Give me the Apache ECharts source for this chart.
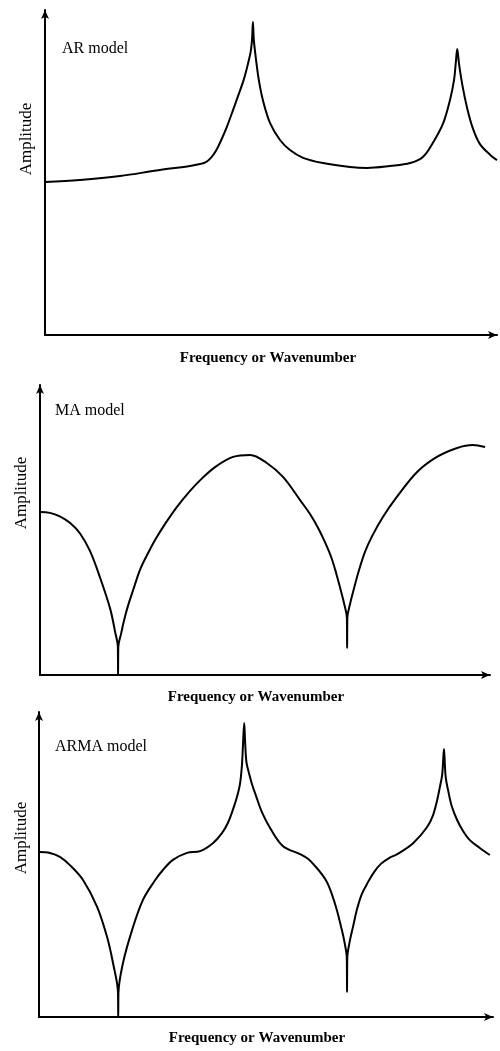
<!DOCTYPE html>
<html>
<head>
<meta charset="utf-8">
<script src="https://cdn.jsdelivr.net/npm/echarts/dist/echarts.min.js"></script>
<style>
html,body{margin:0;padding:0;background:#fff;}
#chart{width:500px;height:1051px;}
</style>
</head>
<body>
<div id="chart"></div>
<script>
// Panel titles and axis labels
const panelTitles = ['AR model', 'MA model', 'ARMA model'];
const xAxisLabel = 'Frequency or Wavenumber';
const yAxisLabel = 'Amplitude';

// [frequency, amplitude] (arbitrary units 0-100)
const arModel = [[0,47.1],[7.7,47.7],[16.6,48.9],[25.4,50.8],[32.1,52.0],[34.3,52.6],[35.6,53.2],[36.7,54.5],[37.8,56.6],[38.9,59.7],[40.3,64.3],[41.6,69.2],[42.7,73.5],[43.8,77.8],[44.5,81.2],[45.0,84.0],[45.5,87.1],[45.8,90.8],[46.0,96.3],[46.2,90.8],[46.7,84.6],[47.3,78.5],[48.2,72.3],[49.8,65.2],[52.0,60.0],[54.2,56.9],[57.1,54.5],[61.5,52.9],[67.5,51.7],[71.2,51.4],[76.3,52.0],[80.8,52.9],[83.6,54.8],[85.8,59.1],[88.1,65.2],[89.6,72.3],[90.5,78.5],[90.9,84.0],[91.2,88.0],[91.6,83.4],[92.3,77.2],[93.4,69.8],[94.7,63.4],[96.2,58.8],[98.5,55.4],[100,53.8]];

const maModel = [[0,56.2],[2.2,55.9],[4.4,54.7],[6.7,52.4],[8.9,48.8],[11.1,42.8],[13.3,33.8],[15.6,22.8],[16.7,14.8],[17.3,9.7],[17.35,0],[17.4,9.7],[18.0,14.1],[18.7,19.0],[19.6,24.1],[20.7,29.3],[22.2,36.2],[23.8,41.4],[25.6,46.6],[27.8,52.1],[30.4,57.9],[33.3,63.4],[35.6,67.2],[38.9,71.7],[42.9,75.2],[46.7,75.9],[50.4,73.1],[54.0,68.3],[57.8,60.3],[60.0,55.5],[61.8,50.7],[63.3,45.9],[64.7,40.7],[65.8,35.2],[66.7,30.0],[67.6,24.5],[68.2,19.7],[68.25,9.3],[68.3,19.7],[68.9,24.5],[69.8,30.0],[70.9,36.2],[72.2,42.4],[73.8,47.9],[76.2,54.5],[79.3,61.4],[83.8,70.0],[88.2,75.2],[92.7,78.3],[96.2,79.3],[98.9,78.6]];

const armaModel = [[0,54.1],[2.4,53.8],[4.6,52.5],[6.8,49.8],[9.7,44.9],[12.8,36.1],[15.0,26.2],[16.3,17.7],[17.4,7.9],[17.45,0],[17.5,7.9],[18.5,17.7],[20.5,28.5],[22.9,38.4],[25.6,44.9],[27.3,48.2],[29.5,51.5],[32.6,53.8],[35.5,54.4],[38.3,57.0],[40.3,60.3],[41.6,63.6],[42.7,67.9],[43.6,72.1],[44.3,76.7],[44.7,82.6],[44.9,88.2],[45.2,96.4],[45.4,90.2],[45.6,84.9],[45.8,82.6],[46.3,79.7],[46.9,76.4],[47.8,72.5],[49.1,67.2],[50.9,62.0],[53.7,56.1],[57.5,53.4],[59.3,51.8],[60.8,49.5],[62.1,47.2],[63.4,44.3],[64.5,40.3],[65.6,35.1],[66.5,29.8],[67.2,25.2],[67.8,19.3],[67.85,8.2],[67.9,19.3],[68.5,25.2],[69.2,29.8],[70.0,35.1],[71.1,40.3],[72.5,44.3],[73.8,47.5],[75.3,50.2],[77.1,52.1],[78.9,53.4],[82.4,57.0],[85.5,62.3],[86.8,66.2],[87.7,71.1],[88.3,75.4],[88.8,79.3],[89.0,83.6],[89.2,87.9],[89.4,82.6],[89.6,78.4],[90.1,74.4],[90.9,69.2],[92.1,64.6],[93.4,61.0],[94.9,58.0],[97.1,55.4],[99.3,53.1]];

const seriesData = [arModel, maModel, armaModel];

const grids = [
  {left: 45, top: 10, width: 452, height: 325},
  {left: 40, top: 385, width: 450, height: 290},
  {left: 39, top: 712, width: 454, height: 305}
];
const titlePos = [[62, 50], [55, 412], [55, 748]];
const xLabelPos = [[268, 358], [256, 697], [257, 1038]];
const yLabelPos = [[27, 139], [22, 493], [22, 838]];

const font = '"Liberation Serif", "DejaVu Serif", serif';
const axisLineStyle = {show: true, symbol: ['none', 'arrow'], symbolSize: [6, 9], lineStyle: {color: '#000', width: 2}};

const chart = echarts.init(document.getElementById('chart'), null, {renderer: 'canvas'});
const graphic = [];
for (let i = 0; i < 3; i++) {
  graphic.push({type: 'text', left: titlePos[i][0], top: titlePos[i][1] - 9,
    style: {text: panelTitles[i], font: '16px ' + font, fill: '#000'}});
  graphic.push({type: 'text', x: xLabelPos[i][0], y: xLabelPos[i][1],
    style: {text: xAxisLabel, font: 'bold 15px ' + font, fill: '#000', align: 'center', verticalAlign: 'middle'}});
  graphic.push({type: 'text', x: yLabelPos[i][0], y: yLabelPos[i][1], rotation: Math.PI / 2,
    style: {text: yAxisLabel, font: '17px ' + font, fill: '#000', align: 'center', verticalAlign: 'middle'}});
}

chart.setOption({
  animation: false,
  backgroundColor: '#fff',
  grid: grids,
  xAxis: grids.map((g, i) => ({type: 'value', gridIndex: i, min: 0, max: 100,
    axisLine: axisLineStyle, axisTick: {show: false}, axisLabel: {show: false}, splitLine: {show: false}})),
  yAxis: grids.map((g, i) => ({type: 'value', gridIndex: i, min: 0, max: 100,
    axisLine: axisLineStyle, axisTick: {show: false}, axisLabel: {show: false}, splitLine: {show: false}})),
  series: seriesData.map((d, i) => ({type: 'line', xAxisIndex: i, yAxisIndex: i, data: d,
    showSymbol: false, smooth: 0.35, clip: false,
    lineStyle: {color: '#000', width: 2}})),
  graphic: graphic
});
</script>
</body>
</html>
